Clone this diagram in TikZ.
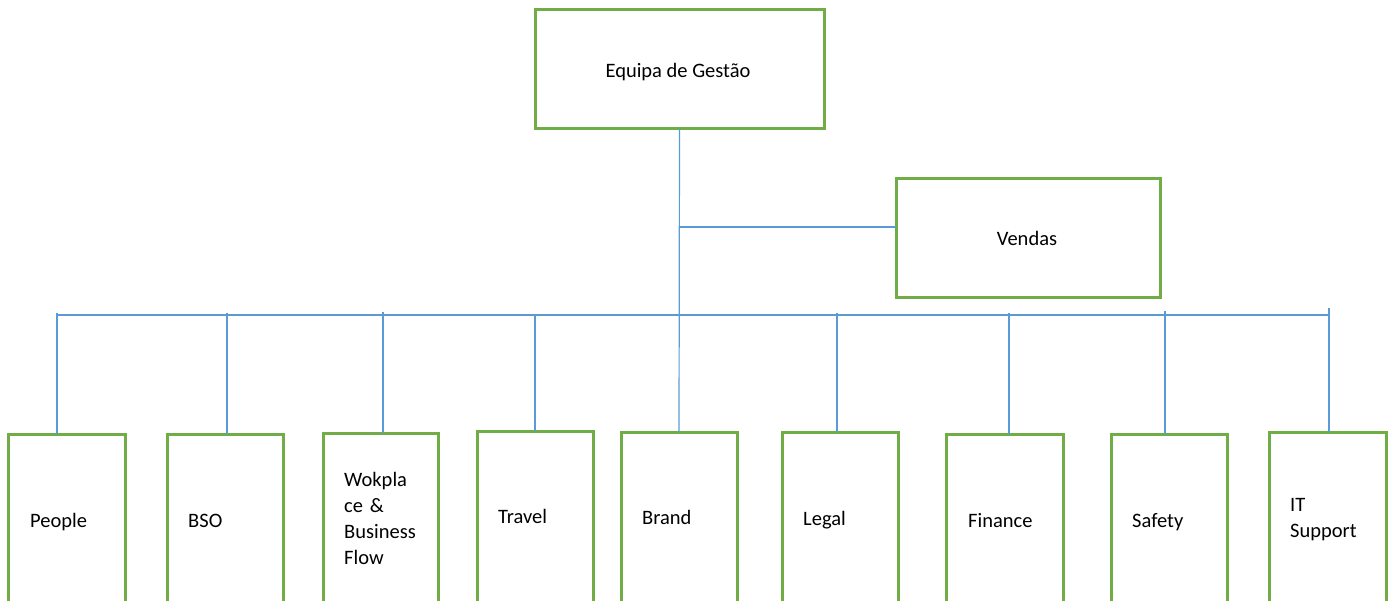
\documentclass[tikz,border=0pt]{standalone}
\usepackage{fontspec}
\setmainfont{Carlito}
\definecolor{boxgreen}{HTML}{70AD47}
\definecolor{linkblue}{HTML}{5B9BD5}
\begin{document}
\begin{tikzpicture}[x=1pt,y=-1pt,
  box/.style={draw=boxgreen, line width=3pt, rectangle, inner sep=0pt, outer sep=0pt, anchor=north west},
  link/.style={draw=linkblue, line width=1.2pt},
  txt/.style={font=\fontsize{20.5}{26}\selectfont, inner sep=0pt},
  lbl/.style={txt, anchor=base west, text width=100pt, align=left}]
\useasboundingbox (0,0) rectangle (1391,601);

% management and sales
\node[box, minimum width=289pt, minimum height=119pt] (top) at (535,10) {};
\node[txt, anchor=base] (top-t) at (678,78) {Equipa de Gestão};
\node[box, minimum width=264pt, minimum height=119pt] (vendas) at (896,179) {};
\node[txt, anchor=base] (vendas-t) at (1027,246) {Vendas};

% departments
\foreach \n/\x/\y/\w in {people/8/434/117, bso/167/434/116, wok/323/433/115,
    travel/477/431/116, brand/621/432/116, legal/782/432/116,
    finance/946/434/117, safety/1111/434/116, it/1269/432/117}
  \node[box, minimum width=\w pt, minimum height=190pt] (\n) at (\x,\y) {};

\node[lbl] (people-t)  at (30,527)   {People};
\node[lbl] (bso-t)     at (188,527)  {BSO};
\node[lbl] (wok-t)     at (344,486)  {Wokpla\\ce \&\\Business\\Flow};
\node[lbl] (travel-t)  at (498,523)  {Travel};
\node[lbl] (brand-t)   at (642,524)  {Brand};
\node[lbl] (legal-t)   at (803,525)  {Legal};
\node[lbl] (finance-t) at (968,527)  {Finance};
\node[lbl] (safety-t)  at (1132,527) {Safety};
\node[lbl] (it-t)      at (1290,511) {IT\\Support};

% connectors
\draw[link] (top.south) -- (brand.north);
\coordinate (v-j) at (680,227);
\draw[link] (v-j) -- (v-j -| vendas.west);
\coordinate (bus-l) at (57,315);
\coordinate (bus-r) at (1329,315);
\draw[link] (bus-l) -- (bus-r);
\foreach \n/\x/\y in {people/57/313, bso/227/313, wok/383/312, travel/535/315,
    legal/837/313, finance/1009/313, safety/1165/311, it/1329/308} {
  \coordinate (c-\n) at (\x,\y);
  \draw[link] (c-\n) -- (c-\n |- \n.north);
}
\end{tikzpicture}
\end{document}
